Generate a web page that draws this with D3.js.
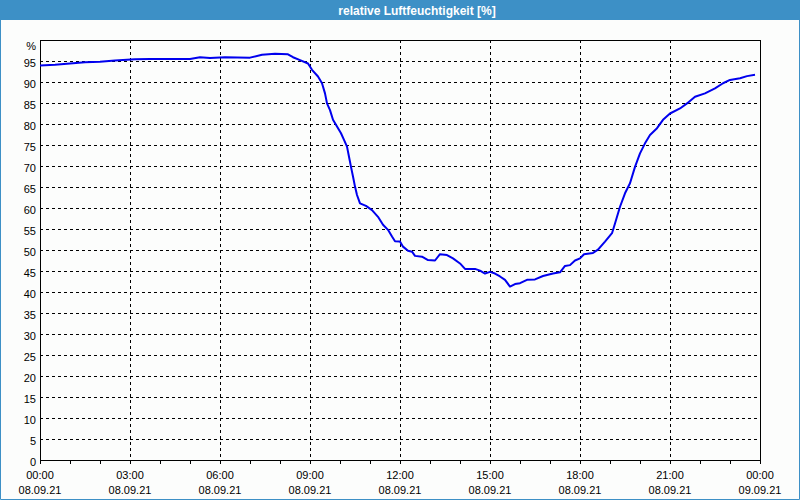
<!DOCTYPE html>
<html>
<head>
<meta charset="utf-8">
<script src="https://cdn.jsdelivr.net/npm/d3@7"></script>
<style>
  html, body { margin: 0; padding: 0; background: #fcfdfc; }
  svg { display: block; }
  text { font-family: "Liberation Sans", Arial, sans-serif; }
</style>
</head>
<body>
<svg id="chart" width="800" height="500"></svg>
<script>
// ---- data ----
const title = "relative Luftfeuchtigkeit [%]";
const unitLabel = "%";
// minutes after 08.09.21 00:00
const minutes = [0, 30, 60, 90, 120, 150, 190, 220, 300, 320, 340, 370, 420, 444, 470, 496, 506, 520, 536, 544, 556, 564, 570, 574, 580, 586, 594, 602, 608, 614, 618, 622, 626, 630, 634, 640, 652, 664, 676, 686, 696, 704, 710, 720, 726, 736, 744, 750, 764, 776, 790, 800, 814, 826, 840, 850, 870, 880, 890, 900, 910, 920, 930, 940, 950, 960, 974, 990, 1006, 1026, 1040, 1050, 1060, 1070, 1080, 1088, 1106, 1116, 1130, 1144, 1150, 1160, 1170, 1180, 1190, 1200, 1210, 1220, 1234, 1246, 1260, 1280, 1294, 1310, 1330, 1350, 1366, 1380, 1400, 1414, 1430];
const humidity = [93.9, 94.1, 94.4, 94.7, 94.8, 95.1, 95.4, 95.5, 95.5, 95.9, 95.7, 95.9, 95.8, 96.5, 96.7, 96.6, 95.9, 95.2, 94.4, 92.9, 91.3, 89.7, 87.3, 84.9, 83.3, 81.0, 79.4, 77.8, 76.2, 74.6, 72.2, 69.8, 67.5, 65.1, 63.1, 61.1, 60.5, 59.5, 57.9, 56.0, 54.8, 53.2, 52.1, 52.0, 50.8, 49.8, 49.6, 48.6, 48.4, 47.6, 47.5, 49.0, 48.8, 48.0, 46.8, 45.5, 45.5, 45.1, 44.4, 44.8, 44.4, 43.7, 42.9, 41.3, 41.9, 42.1, 42.9, 43.0, 43.8, 44.4, 44.7, 46.2, 46.4, 47.5, 48.0, 49.0, 49.3, 50.1, 52.0, 54.0, 56.3, 60.3, 63.5, 65.9, 69.8, 73.0, 75.4, 77.4, 79.0, 81.0, 82.5, 83.7, 84.9, 86.5, 87.3, 88.5, 89.7, 90.5, 90.9, 91.4, 91.7];
const yTicks = [0, 5, 10, 15, 20, 25, 30, 35, 40, 45, 50, 55, 60, 65, 70, 75, 80, 85, 90, 95];
const xTickHours = [0, 3, 6, 9, 12, 15, 18, 21, 24];
const xTimeLabels = ["00:00", "03:00", "06:00", "09:00", "12:00", "15:00", "18:00", "21:00", "00:00"];
const xDateLabels = ["08.09.21", "08.09.21", "08.09.21", "08.09.21", "08.09.21", "08.09.21", "08.09.21", "08.09.21", "09.09.21"];

// ---- layout ----
const W = 800, H = 500;
const plot = { left: 40, top: 40, right: 760, bottom: 460 };
const svg = d3.select("#chart");

const x = d3.scaleLinear().domain([0, 24 * 60]).range([plot.left, plot.right]);
const y = d3.scaleLinear().domain([0, 100]).range([plot.bottom, plot.top]);

// background
svg.append("rect").attr("x", 0).attr("y", 0).attr("width", W).attr("height", H).attr("fill", "#fcfdfc");

// title bar
svg.append("rect").attr("x", 0).attr("y", 0).attr("width", W).attr("height", 20).attr("fill", "#3d90c6");
svg.append("text").attr("x", 417).attr("y", 14.5).attr("text-anchor", "middle")
  .attr("fill", "#ffffff").attr("font-size", "12px").attr("font-weight", "bold").text(title);

// outer border (left, right, bottom)
svg.append("path").attr("d", `M0.5,0 V${H - 0.5} H${W - 0.5} V0`)
  .attr("fill", "none").attr("stroke", "#3d90c6").attr("stroke-width", 1);

// horizontal grid
const gridG = svg.append("g").attr("shape-rendering", "crispEdges");
gridG.selectAll("line.h").data(yTicks.filter(v => v > 0)).join("line")
  .attr("x1", plot.left).attr("x2", plot.right)
  .attr("y1", d => Math.round(y(d)) + 0.5).attr("y2", d => Math.round(y(d)) + 0.5)
  .attr("stroke", "#000").attr("stroke-width", 1).attr("stroke-dasharray", "3,3");
// vertical grid
gridG.selectAll("line.v").data(xTickHours.filter(h => h > 0 && h < 24)).join("line")
  .attr("x1", d => Math.round(x(d * 60)) + 0.5).attr("x2", d => Math.round(x(d * 60)) + 0.5)
  .attr("y1", plot.top).attr("y2", plot.bottom)
  .attr("stroke", "#000").attr("stroke-width", 1).attr("stroke-dasharray", "3,3");

// frame
svg.append("rect").attr("x", plot.left + 0.5).attr("y", plot.top + 0.5)
  .attr("width", plot.right - plot.left).attr("height", plot.bottom - plot.top)
  .attr("fill", "none").attr("stroke", "#000").attr("stroke-width", 1).attr("shape-rendering", "crispEdges");

// hourly minor ticks below axis
const hours = d3.range(0, 25);
svg.append("g").attr("shape-rendering", "crispEdges").selectAll("line").data(hours).join("line")
  .attr("x1", d => Math.round(x(d * 60)) + 0.5).attr("x2", d => Math.round(x(d * 60)) + 0.5)
  .attr("y1", plot.bottom).attr("y2", plot.bottom + 4)
  .attr("stroke", "#000");

// y labels
svg.append("g").selectAll("text").data(yTicks).join("text")
  .attr("x", 36).attr("y", d => y(d) + 5.5).attr("text-anchor", "end")
  .attr("font-size", "11px").attr("fill", "#000").text(d => d);
svg.append("text").attr("x", 36).attr("y", 50).attr("text-anchor", "end")
  .attr("font-size", "11px").attr("fill", "#000").text(unitLabel);

// x labels
const xl = svg.append("g");
xl.selectAll("text.t").data(xTickHours).join("text")
  .attr("x", d => x(d * 60)).attr("y", 479).attr("text-anchor", "middle")
  .attr("font-size", "11px").attr("fill", "#000").text((d, i) => xTimeLabels[i]);
xl.selectAll("text.d").data(xTickHours).join("text")
  .attr("class", "d")
  .attr("x", d => x(d * 60)).attr("y", 494).attr("text-anchor", "middle")
  .attr("font-size", "11px").attr("fill", "#000").text((d, i) => xDateLabels[i]);

// data line
const pts = minutes.map((m, i) => [m, humidity[i]]);
const line = d3.line().x(d => x(d[0])).y(d => y(d[1])).curve(d3.curveLinear);
svg.append("path").datum(pts).attr("d", line)
  .attr("fill", "none").attr("stroke", "#0000ee").attr("stroke-width", 2)
  .attr("stroke-linejoin", "round");
</script>
</body>
</html>
